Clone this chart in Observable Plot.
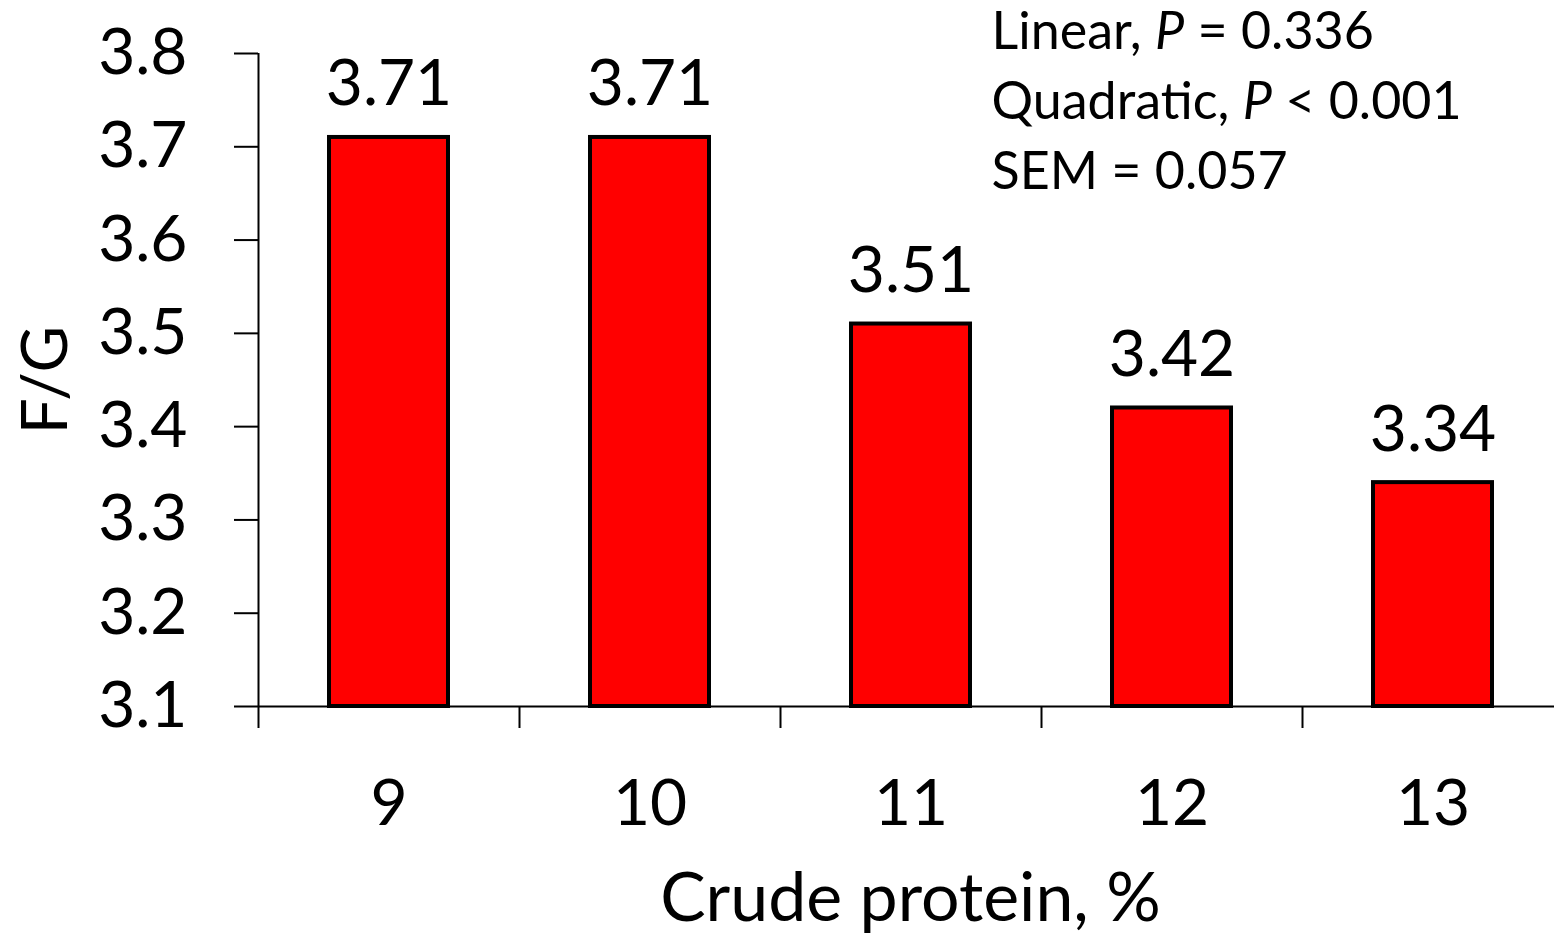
<!DOCTYPE html>
<html><head><meta charset="utf-8">
<script src="https://cdn.jsdelivr.net/npm/d3@7"></script>
<script src="https://cdn.jsdelivr.net/npm/@observablehq/plot@0.6"></script>
<style>
html,body{margin:0;padding:0;background:#fff;}
</style>
</head><body><div id="chart"></div>
<script>
// ---- data ----
const proteins = ["9", "10", "11", "12", "13"];
const fg = [3.71, 3.71, 3.51, 3.42, 3.34];
const yTicks = [3.1, 3.2, 3.3, 3.4, 3.5, 3.6, 3.7, 3.8];
const statLines = ["Linear, P = 0.336", "Quadratic, P < 0.001", "SEM = 0.057"];
const xTitle = "Crude protein, %";
const yTitle = "F/G";

const data = proteins.map((p, i) => ({protein: p, fg: fg[i]}));

// ---- layout ----
const W = 1554, H = 934;
const X0 = 258, X1 = 1563, Y0 = 53, YB = 706;
const band = (X1 - X0) / proteins.length;

const chart = Plot.plot({
  width: W, height: H,
  marginLeft: X0, marginRight: 0, marginTop: Y0, marginBottom: H - YB,
  style: {fontFamily: "Lato, 'Open Sans', sans-serif", fontSize: "64px", color: "#000", background: "#fff", overflow: "visible"},
  x: {type: "band", domain: proteins, range: [X0, X1], padding: 0},
  y: {domain: [3.1, 3.8]},
  marks: [
    Plot.barY(data, {x: "protein", y1: 3.1, y2: "fg", fill: "#ff0000", stroke: "#000", strokeWidth: 4, insetLeft: 71, insetRight: 71}),
    Plot.ruleY([3.1], {stroke: "#000", strokeWidth: 2}),
    Plot.ruleX([proteins[0]], {x: d => d, dx: -band / 2, stroke: "#000", strokeWidth: 2}),
    Plot.axisY({ticks: yTicks, tickSize: 24, tickPadding: 47, tickFormat: d => d.toFixed(1), label: null, strokeWidth: 2, fontSize: 64}),
    Plot.axisX({tickSize: 22, dx: -band / 2, tickFormat: () => "", label: null, strokeWidth: 2}),
    Plot.axisX({tickSize: 0, tickPadding: 73, label: null, fontSize: 64}),
    Plot.text(data, {x: "protein", y: "fg", text: d => d.fg.toFixed(2), dy: -32, lineAnchor: "bottom", fontSize: 64, fill: "#000"}),
    Plot.text([yTitle], {frameAnchor: "left", textAnchor: "middle", rotate: -90, dx: -212, fontSize: 64, fill: "#000"}),
    Plot.text([xTitle], {frameAnchor: "bottom", textAnchor: "middle", lineAnchor: "bottom", dy: 214, dx: 4, fontSize: 68, fill: "#000"}),
    Plot.text([statLines.join("\n")], {frameAnchor: "top-left", textAnchor: "start", lineAnchor: "top", lineHeight: 70 / 52, dx: 733, dy: -54, fontSize: 52, fill: "#000"})
  ]
});

// italic P in statistics lines
chart.querySelectorAll("text, tspan").forEach(el => {
  if (el.children.length) return;
  const s = el.textContent;
  if (!/, P [=<]/.test(s)) return;
  const i = s.indexOf("P ");
  el.textContent = "";
  el.append(document.createTextNode(s.slice(0, i)));
  const t = document.createElementNS("http://www.w3.org/2000/svg", "tspan");
  t.setAttribute("font-style", "italic");
  t.textContent = "P";
  el.append(t);
  el.append(document.createTextNode(s.slice(i + 1)));
});

document.getElementById("chart").append(chart);
</script>
</body></html>
